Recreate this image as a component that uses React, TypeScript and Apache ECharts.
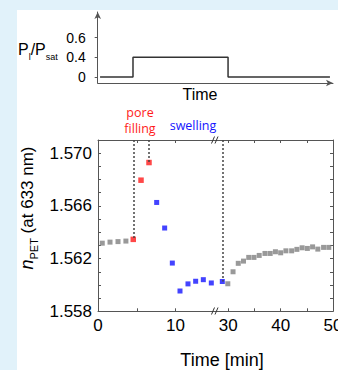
import React, { useEffect, useRef } from 'react';
import * as echarts from 'echarts';

// ---- Inset: relative pressure step ----
const insetTime = [1, 15, 15, 55.4, 55.4, 98.7];
const insetPressure = [0, 0, 0.4, 0.4, 0, 0];
const insetPressureLevels = [0, 0.4, 0.6];
const insetPressureLabels = ['0', '0.4', '0.6'];

// ---- Main: refractive index vs time (broken time axis) ----
const baselineTime = [0.55, 1.55, 2.58, 3.6];
const baselineN = [1.56317, 1.56325, 1.56329, 1.56333];
const poreTime = [4.55, 5.55, 6.58];
const poreN = [1.56346, 1.56795, 1.56929];
const swellTimeLeft = [7.57, 8.6, 9.59, 10.58, 11.61, 12.6, 13.59, 14.62];
const swellNLeft = [1.56626, 1.56432, 1.56166, 1.55954, 1.56008, 1.56028, 1.5604, 1.56015];
const swellTimeRight = [28.85];
const swellNRight = [1.56026];
const recoveryTime = [29.9, 30.9, 31.9, 32.9, 33.9, 34.9, 35.9, 37.0, 38.0, 39.0, 40.0, 41.0, 42.1, 43.1, 44.1, 45.1, 46.1, 47.1, 48.2, 49.2];
const recoveryN = [1.56009, 1.561, 1.56164, 1.56181, 1.56209, 1.56209, 1.56224, 1.56239, 1.56239, 1.56252, 1.56244, 1.56259, 1.56259, 1.5627, 1.56282, 1.56277, 1.56289, 1.56272, 1.56285, 1.56285];

const leftTimeRange = [0, 15.16];
const rightTimeRange = [27.55, 50];
const nRange = [1.558, 1.571];
const leftTickValues = [0, 5, 10];
const leftLabelValues = [0, 10];
const rightTickValues = [30, 35, 40, 45];
const rightLabelValues = [30, 40, 50];
const nLabelValues = [1.558, 1.562, 1.566, 1.57];

const SANS = "'Liberation Sans', Arial, Helvetica, sans-serif";
const HUMAN = "'Open Sans', 'Noto Sans', sans-serif";
const AXIS = '#555';
const RED = '#ff1a1a';
const BLUE = '#1414ff';
const GRAY = '#808080';

const pairs = (xs: number[], ys: number[]) => xs.map((x, i) => [x, ys[i]]);

export default function App() {
  const ref = useRef<HTMLDivElement>(null);
  useEffect(() => {
    if (!ref.current) return;
    const chart = echarts.init(ref.current, undefined, { renderer: 'svg' });
    const dashed = { color: '#444', width: 1.5, type: [2, 2] as any };
    const mainX = (range: number[], grid: number, pos: 'top' | 'bottom', ticks: number[], labels: number[] | null) => ({
      type: 'value', gridIndex: grid, position: pos, min: range[0], max: range[1],
      axisLine: { show: true, onZero: false, lineStyle: { color: AXIS, width: 1 } },
      axisTick: { show: true, inside: true, length: 3, customValues: ticks, lineStyle: { color: AXIS } },
      axisLabel: labels
        ? { show: true, customValues: labels, margin: 6, fontSize: 17, color: '#000', fontFamily: SANS, hideOverlap: false }
        : { show: false },
      splitLine: { show: false },
    });
    const mainY = (grid: number, pos: 'left' | 'right', labels: boolean) => ({
      type: 'value', gridIndex: grid, position: pos, min: nRange[0], max: nRange[1], interval: 0.001,
      axisLine: { show: true, onZero: false, lineStyle: { color: AXIS, width: 1 } },
      axisTick: { show: true, inside: true, length: 3, lineStyle: { color: AXIS } },
      axisLabel: labels
        ? { show: true, customValues: nLabelValues, formatter: (v: number) => v.toFixed(3), margin: 6, fontSize: 17, color: '#000', fontFamily: SANS }
        : { show: false },
      splitLine: { show: false },
    });
    const sq = (size: number, color: string) => ({ type: 'scatter', symbol: 'rect', symbolSize: size, itemStyle: { color } });

    chart.setOption({
      animation: false,
      backgroundColor: '#e1f2fa',
      grid: [
        { left: 97.7, top: 12, width: 235.3, height: 71, outerBoundsMode: 'none', containLabel: false },
        { left: 98, top: 140, width: 117.5, height: 171.3, outerBoundsMode: 'none', containLabel: false },
        { left: 215.5, top: 140, width: 117.5, height: 171.3, outerBoundsMode: 'none', containLabel: false },
      ],
      xAxis: [
        {
          type: 'value', gridIndex: 0, min: 0, max: 100,
          axisLine: { show: true, onZero: false, symbol: ['none', 'arrow'], symbolSize: [5, 7], lineStyle: { color: AXIS, width: 1 } },
          axisTick: { show: false }, axisLabel: { show: false }, splitLine: { show: false },
        },
        mainX(leftTimeRange, 1, 'bottom', leftTickValues, leftLabelValues),
        mainX(leftTimeRange, 1, 'top', leftTickValues, null),
        mainX(rightTimeRange, 2, 'bottom', rightTickValues, rightLabelValues),
        mainX(rightTimeRange, 2, 'top', rightTickValues, null),
      ],
      yAxis: [
        {
          type: 'value', gridIndex: 0, min: -0.3, max: 3.3,
          axisLine: { show: true, onZero: false, symbol: ['none', 'arrow'], symbolSize: [5, 7], lineStyle: { color: AXIS, width: 1 } },
          axisTick: { show: true, inside: false, length: 3, customValues: [0, 1, 2], lineStyle: { color: AXIS } },
          axisLabel: {
            show: true, customValues: [0, 1, 2], margin: 12, fontSize: 14, color: '#000', fontFamily: SANS,
            formatter: (v: number) => insetPressureLabels[Math.round(v)] ?? '',
          },
          splitLine: { show: false },
        },
        mainY(1, 'left', true),
        mainY(2, 'right', false),
      ],
      series: [
        {
          type: 'line', xAxisIndex: 0, yAxisIndex: 0, showSymbol: false, silent: true,
          data: insetTime.map((t, i) => [t, insetPressureLevels.indexOf(insetPressure[i])]),
          lineStyle: { color: '#333', width: 1.5 },
        },
        { ...sq(5, GRAY), xAxisIndex: 1, yAxisIndex: 1, data: pairs(baselineTime, baselineN) },
        {
          ...sq(5.5, RED), xAxisIndex: 1, yAxisIndex: 1, data: pairs(poreTime, poreN),
          markLine: {
            silent: true, symbol: ['none', 'none'], label: { show: false }, lineStyle: dashed,
            data: [
              [{ coord: [poreTime[0], nRange[1]] }, { coord: [poreTime[0], poreN[0]] }],
              [{ coord: [poreTime[2], nRange[1]] }, { coord: [poreTime[2], poreN[2]] }],
            ],
          },
        },
        { ...sq(5, BLUE), xAxisIndex: 1, yAxisIndex: 1, data: pairs(swellTimeLeft, swellNLeft) },
        {
          ...sq(5, BLUE), xAxisIndex: 3, yAxisIndex: 2, data: pairs(swellTimeRight, swellNRight),
          markLine: {
            silent: true, symbol: ['none', 'none'], label: { show: false }, lineStyle: dashed,
            data: [[{ coord: [swellTimeRight[0], nRange[1]] }, { coord: [swellTimeRight[0], swellNRight[0]] }]],
          },
        },
        { ...sq(5, GRAY), xAxisIndex: 3, yAxisIndex: 2, data: pairs(recoveryTime, recoveryN) },
      ],
      graphic: [
        { type: 'rect', z: -100, silent: true, shape: { x: 17, y: 10, width: 321, height: 360 }, style: { fill: '#fff' } },
        // axis break marks
        { type: 'line', z: 10, shape: { x1: 211.5, y1: 143.5, x2: 214.5, y2: 136.5 }, style: { stroke: '#333', lineWidth: 1 } },
        { type: 'line', z: 10, shape: { x1: 215, y1: 143.5, x2: 218, y2: 136.5 }, style: { stroke: '#333', lineWidth: 1 } },
        { type: 'line', z: 10, shape: { x1: 211.5, y1: 314.5, x2: 214.5, y2: 307.5 }, style: { stroke: '#333', lineWidth: 1 } },
        { type: 'line', z: 10, shape: { x1: 215, y1: 314.5, x2: 218, y2: 307.5 }, style: { stroke: '#333', lineWidth: 1 } },
        // annotations
        { type: 'text', x: 140, y: 112.5, style: { text: 'pore', fill: RED, font: `12.5px ${HUMAN}`, align: 'center', verticalAlign: 'middle' } },
        { type: 'text', x: 140, y: 128.5, style: { text: 'filling', fill: RED, font: `12.5px ${HUMAN}`, align: 'center', verticalAlign: 'middle' } },
        { type: 'text', x: 193, y: 125, style: { text: 'swelling', fill: BLUE, font: `12.5px ${HUMAN}`, align: 'center', verticalAlign: 'middle' } },
        // inset labels
        { type: 'text', x: 200, y: 94, style: { text: 'Time', fill: '#000', font: `16px ${SANS}`, align: 'center', verticalAlign: 'middle' } },
        {
          type: 'text', x: 18, y: 49,
          style: {
            text: '{m|P}{s|l}{m|/P}{s|sat}', align: 'left', verticalAlign: 'middle',
            rich: {
              m: { fontSize: 16, fontFamily: SANS, fill: '#000', lineHeight: 24 },
              s: { fontSize: 9, fontFamily: SANS, fill: '#000', lineHeight: 10, verticalAlign: 'bottom' },
            },
          },
        },
        // main axis titles
        { type: 'text', x: 222, y: 360, style: { text: 'Time [min]', fill: '#000', font: `18px ${SANS}`, align: 'center', verticalAlign: 'middle' } },
        {
          type: 'text', x: 27, y: 208, rotation: Math.PI / 2,
          style: {
            text: '{i|n}{s|PET}{m| (at 633 nm)}', align: 'center', verticalAlign: 'middle',
            rich: {
              i: { fontSize: 18, fontStyle: 'italic', fontFamily: SANS, fill: '#000', lineHeight: 24 },
              m: { fontSize: 17, fontFamily: SANS, fill: '#000', lineHeight: 24 },
              s: { fontSize: 11, fontFamily: SANS, fill: '#000', lineHeight: 12, verticalAlign: 'bottom' },
            },
          },
        },
      ],
    });
    return () => chart.dispose();
  }, []);
  return <div ref={ref} style={{ position: 'absolute', left: 0, top: 0, width: 338, height: 370 }} />;
}
